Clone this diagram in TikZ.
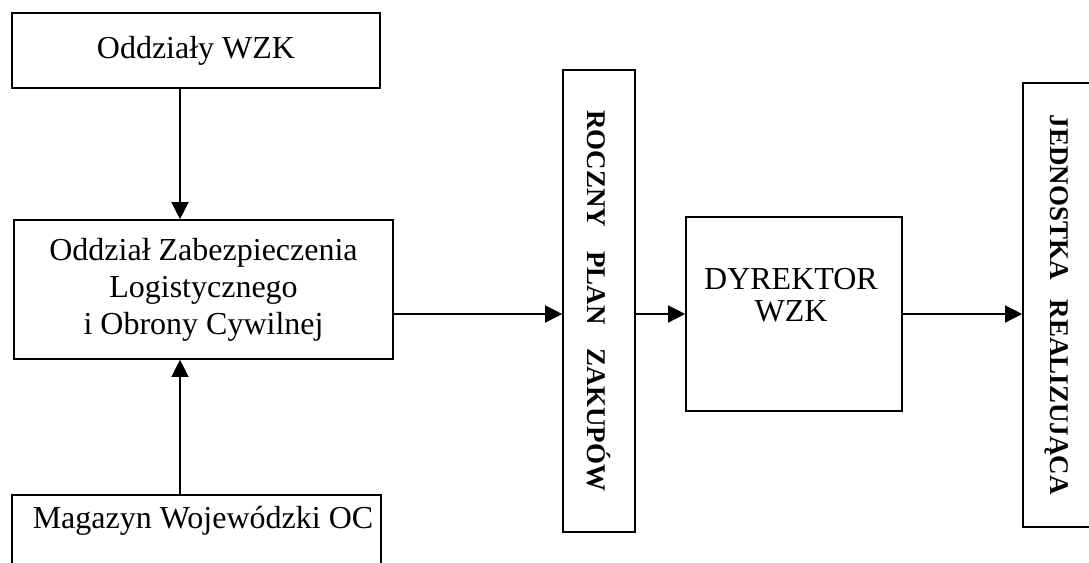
\documentclass[tikz,border=0pt]{standalone}
\usepackage{fontspec}
\setmainfont{Liberation Serif}
\usetikzlibrary{arrows.meta}
\tikzset{
  box/.style={draw, line width=1.6pt, rectangle, inner sep=0pt, align=center,
    font=\fontsize{32}{37}\selectfont},
  vbox/.style={draw, line width=1.6pt, rectangle, inner sep=0pt, rotate=-90,
    font=\fontsize{27}{30}\selectfont\bfseries},
  txt/.style={inner sep=0pt, align=center, font=\fontsize{32}{32}\selectfont},
  arr/.style={line width=1.3pt, -{Triangle[length=17pt,width=17pt]}}
}
\begin{document}
\begin{tikzpicture}[x=1pt,y=-1pt]
\clip (0,0) rectangle (1089,562);
\fill[white] (0,0) rectangle (1089,562);
\node[box, minimum width=368pt, minimum height=75pt] (odz) at (196,50.5) {Oddziały WZK};
\node[box, minimum width=379pt, minimum height=139pt] (ozl) at (203.5,289.5)
  {Oddział Zabezpieczenia\\Logistycznego\\i Obrony Cywilnej};
\node[box, minimum width=369pt, minimum height=120pt] (mag) at (196.5,555) {};
\node[txt] (magt) at (203,521) {Magazyn Wojewódzki OC};
\node[vbox, minimum width=462pt, minimum height=72pt] (rpz) at (599,301)
  {ROCZNY\hspace{24pt}PLAN\hspace{24pt}ZAKUPÓW};
\node[box, minimum width=216pt, minimum height=194pt] (dyr) at (794,314) {};
\node[txt] (dyrt) at (791,295) {DYREKTOR\\WZK};
\node[vbox, minimum width=444pt, minimum height=68pt] (jed) at (1057,305)
  {JEDNOSTKA\hspace{20pt}REALIZUJĄCA};
\coordinate (ax) at (180,0);
\draw[arr] (odz.south -| ax) -- (ozl.north -| ax);
\draw[arr] (mag.north -| ax) -- (ozl.south -| ax);
\draw[arr] (ozl.east |- dyr.center) -- (rpz.south |- dyr.center);
\draw[arr] (rpz.north |- dyr.center) -- (dyr.west);
\draw[arr] (dyr.east) -- (jed.south |- dyr.center);
\end{tikzpicture}
\end{document}
